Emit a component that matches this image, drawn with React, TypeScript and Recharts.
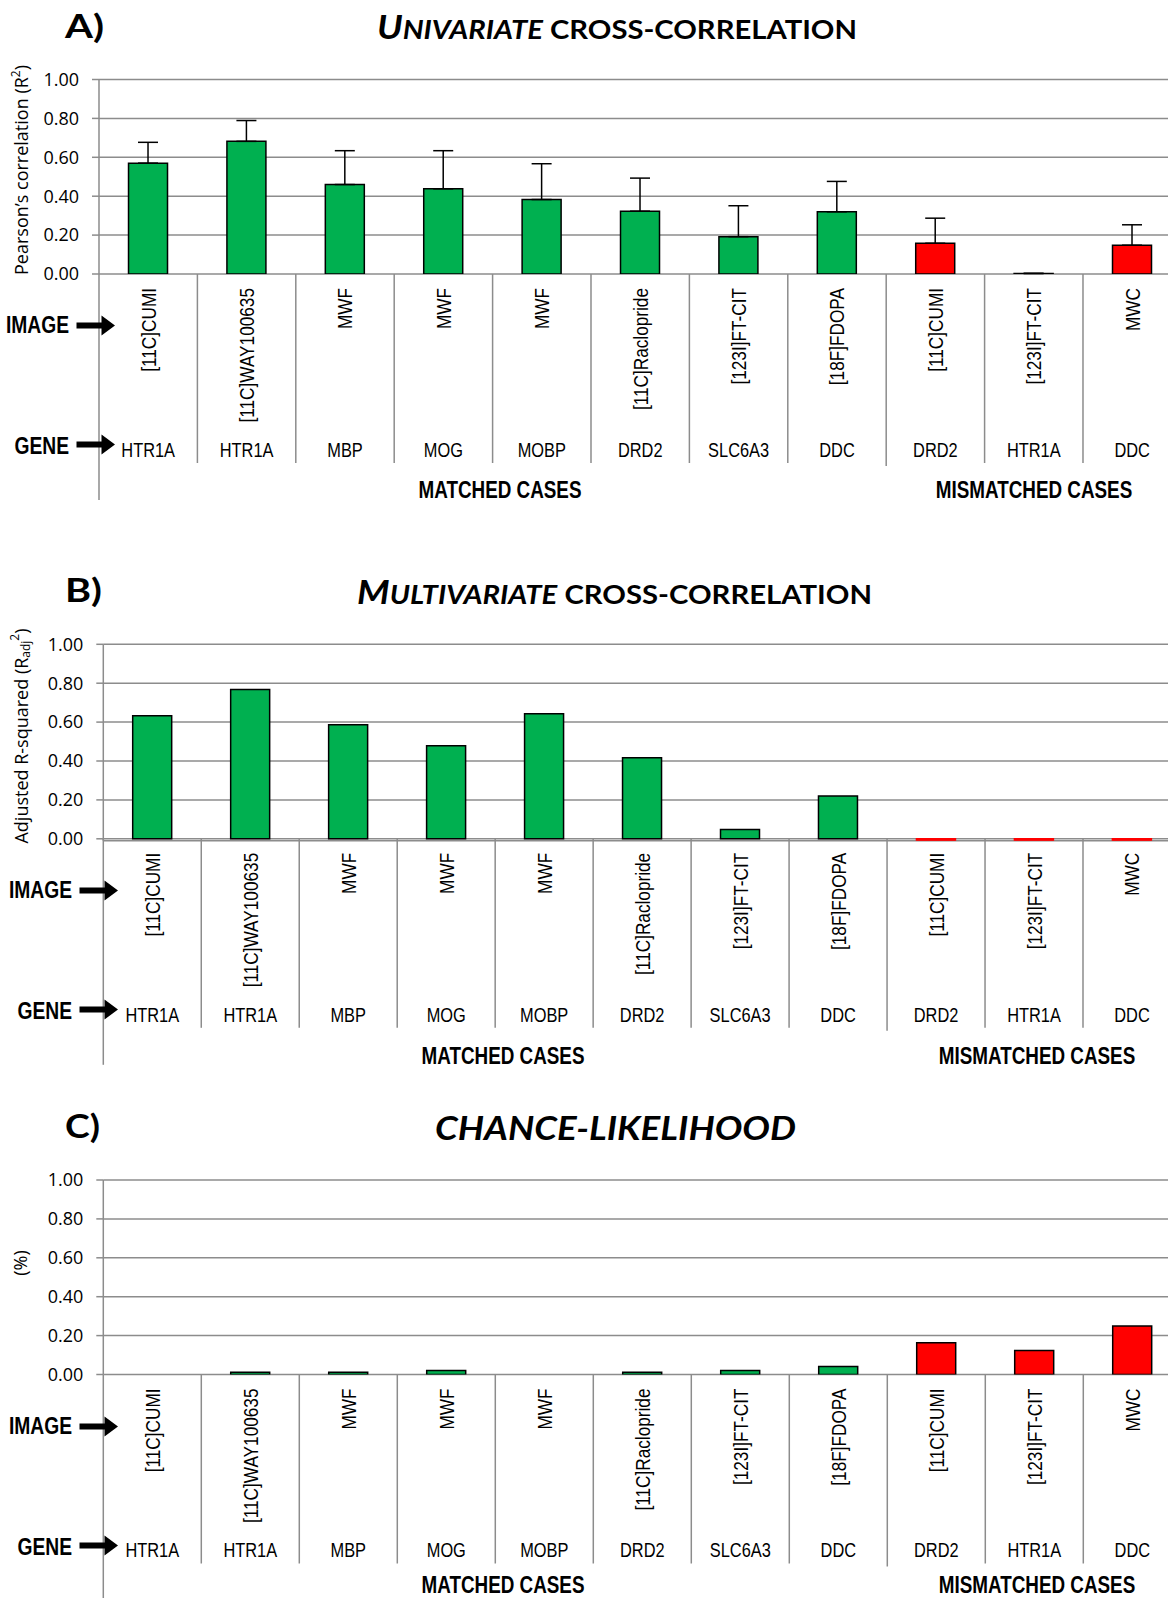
import React from "react";
import { BarChart, Bar, XAxis, YAxis, CartesianGrid, Cell, ErrorBar } from "recharts";

// ---------- data ----------
const imageLabels = [
  "[11C]CUMI", "[11C]WAY100635", "MWF", "MWF", "MWF", "[11C]Raclopride",
  "[123I]FT-CIT", "[18F]FDOPA", "[11C]CUMI", "[123I]FT-CIT", "MWC",
];
const geneLabels = ["HTR1A", "HTR1A", "MBP", "MOG", "MOBP", "DRD2", "SLC6A3", "DDC", "DRD2", "HTR1A", "DDC"];
const caseGroup = ["matched", "matched", "matched", "matched", "matched", "matched", "matched", "matched", "mismatched", "mismatched", "mismatched"];

const univariateR2 = [0.570, 0.682, 0.460, 0.438, 0.383, 0.323, 0.192, 0.320, 0.158, 0.003, 0.148];
const univariateErr = [0.107, 0.107, 0.174, 0.196, 0.184, 0.170, 0.159, 0.156, 0.129, 0, 0.105];
const multivariateR2adj = [0.633, 0.767, 0.587, 0.479, 0.643, 0.417, 0.048, 0.220, -0.01, -0.01, -0.01];
const chanceLikelihood = [0, 0.012, 0.012, 0.021, 0, 0.012, 0.021, 0.041, 0.163, 0.123, 0.250];

const yTicks = [0, 0.2, 0.4, 0.6, 0.8, 1.0];

// ---------- styles ----------
const GREEN = "#00B050";
const RED = "#FF0000";
const GRID = "#8c8c8c";
const ARIAL = "'Liberation Sans', Arial, sans-serif";
const NARROW_SCALE = 0.82;
const TITLE_FONT = "Lato, 'Open Sans', sans-serif";
const NUM_FONT = "'Open Sans', sans-serif";

const UNIT = 194.5; // px per 1.0

function NarrowText(props: {
  x: number; y: number; rotate?: boolean; anchor: "start" | "middle" | "end";
  size: number; bold?: boolean; children: React.ReactNode;
}) {
  const { x, y, rotate, anchor, size, bold, children } = props;
  const tf = `translate(${x}, ${y})${rotate ? " rotate(-90)" : ""} scale(${NARROW_SCALE}, 1)`;
  return (
    <text
      x={0}
      y={0}
      transform={tf}
      textAnchor={anchor}
      fontFamily={ARIAL}
      fontWeight={bold ? "bold" : "normal"}
      fontSize={size}
      fill="#000"
    >
      {children}
    </text>
  );
}

function CategoryTick(props: any) {
  const { x, payload, zeroY, band } = props;
  const i = Number(payload.value);
  const left = x - band / 2;
  const sepLen = i === 0 ? 226 : i === 8 ? 192 : 189;
  return (
    <g>
      <line x1={left} y1={zeroY} x2={left} y2={zeroY + sepLen} stroke={GRID} strokeWidth={1.5} />
      <NarrowText x={x + 7.5} y={zeroY + 14} rotate anchor="end" size={21}>
        {imageLabels[i]}
      </NarrowText>
      <NarrowText x={x} y={zeroY + 183} anchor="middle" size={20}>
        {geneLabels[i]}
      </NarrowText>
    </g>
  );
}

function Panel(props: { values: number[]; errors?: number[]; top: number; axisX: number; band: number; plotTop: number }) {
  const { values, errors, top, axisX, band, plotTop } = props;
  const minV = Math.min(0, ...values);
  const plotH = UNIT * (1 - minV);
  const zeroY = plotTop + UNIT;
  const plotBottom = plotTop + plotH;
  const chartH = Math.round(zeroY + 240);
  const width = axisX + band * 11;
  const rows = values.map((v, i) => ({
    id: String(i),
    value: v,
    err: errors ? [0, errors[i]] : undefined,
  }));
  return (
    <div style={{ position: "absolute", left: 0, top }}>
      <BarChart
        width={width}
        height={chartH}
        data={rows}
        margin={{ top: plotTop, right: 0, bottom: 0, left: 0 }}
        barCategoryGap="30%"
      >
        <CartesianGrid vertical={false} stroke={GRID} strokeWidth={1.5} />
        <XAxis
          dataKey="id"
          type="category"
          height={chartH - plotBottom}
          axisLine={false}
          tickLine={false}
          interval={0}
          tick={(p: any) => <CategoryTick {...p} zeroY={zeroY} band={band} />}
        />
        <YAxis
          type="number"
          domain={[minV, 1]}
          allowDataOverflow
          ticks={yTicks}
          tickFormatter={(v: number) => v.toFixed(2)}
          width={axisX}
          axisLine={{ stroke: GRID, strokeWidth: 1.5 }}
          tickLine={{ stroke: GRID, strokeWidth: 1.5 }}
          tickSize={7}
          tickMargin={13}
          tick={{ fontSize: 18, fill: "#000", fontFamily: NUM_FONT }}
        />
        <Bar dataKey="value" isAnimationActive={false} strokeWidth={1.5}>
          {rows.map((r, i) => {
            const fill = caseGroup[i] === "matched" ? GREEN : RED;
            return <Cell key={i} fill={fill} stroke={r.value < 0 ? fill : "#000"} />;
          })}
          {errors ? (
            <ErrorBar dataKey="err" direction="y" width={10} stroke="#000" strokeWidth={1.5} />
          ) : null}
        </Bar>
      </BarChart>
    </div>
  );
}

function Arrow({ x, cy }: { x: number; cy: number }) {
  const x0 = x, x1 = x + 25, x2 = x + 38.5;
  const pts = [
    [x0, cy - 3], [x1, cy - 3], [x1, cy - 10], [x2, cy], [x1, cy + 10], [x1, cy + 3], [x0, cy + 3],
  ].map((p) => p.join(",")).join(" ");
  return <polygon points={pts} fill="#000" />;
}

function RowLabels({ dy, dx, matchedY }: { dy: number; dx: number; matchedY: number }) {
  return (
    <g>
      <NarrowText x={69 + dx} y={332.5 + dy} anchor="end" size={23.5} bold>IMAGE</NarrowText>
      <Arrow x={76.5 + dx} cy={325.5 + dy} />
      <NarrowText x={69 + dx} y={454 + dy} anchor="end" size={23.5} bold>GENE</NarrowText>
      <Arrow x={76.5 + dx} cy={444.5 + dy} />
      <NarrowText x={500 + dx} y={matchedY} anchor="middle" size={23} bold>MATCHED CASES</NarrowText>
      <NarrowText x={1034 + dx} y={matchedY} anchor="middle" size={23} bold>MISMATCHED CASES</NarrowText>
    </g>
  );
}

export default function App() {
  return (
    <div
      style={{
        position: "absolute",
        left: 0,
        top: 0,
        width: 1168,
        height: 1598,
        overflow: "hidden",
        background: "#fff",
      }}
    >
      <Panel values={univariateR2} errors={univariateErr} top={0} axisX={99} band={98.4} plotTop={79.5} />
      <Panel values={multivariateR2adj} top={565} axisX={103.3} band={97.97} plotTop={79.3} />
      <Panel values={chanceLikelihood} top={1101} axisX={103.3} band={98} plotTop={79} />

      <svg
        width={1168}
        height={1598}
        style={{ position: "absolute", left: 0, top: 0, pointerEvents: "none" }}
      >
        {/* Panel A */}
        <text x={65} y={38} fontFamily={TITLE_FONT} fontWeight="bold" fontSize={32} textLength={39} lengthAdjust="spacingAndGlyphs">A)</text>
        <text x={377} y={39} fontFamily={TITLE_FONT} fontWeight="bold" fontSize={33} textLength={480} lengthAdjust="spacingAndGlyphs">
          <tspan fontStyle="italic">U</tspan>
          <tspan fontStyle="italic" fontSize={26}>NIVARIATE</tspan>
          <tspan fontSize={26}> CROSS-CORRELATION</tspan>
        </text>
        <text
          x={21}
          y={170}
          transform="rotate(-90, 21, 170)"
          textAnchor="middle"
          dominantBaseline="central"
          fontFamily={NUM_FONT}
          fontSize={18}
        >
          Pearson’s correlation (R<tspan fontSize={12} dy={-6}>2</tspan><tspan dy={6}>)</tspan>
        </text>
        <RowLabels dy={0} dx={0} matchedY={498} />

        {/* Panel B */}
        <text x={65} y={602} fontFamily={TITLE_FONT} fontWeight="bold" fontSize={32} textLength={37} lengthAdjust="spacingAndGlyphs">B)</text>
        <text x={357} y={604} fontFamily={TITLE_FONT} fontWeight="bold" fontSize={33} textLength={515} lengthAdjust="spacingAndGlyphs">
          <tspan fontStyle="italic">M</tspan>
          <tspan fontStyle="italic" fontSize={26}>ULTIVARIATE</tspan>
          <tspan fontSize={26}> CROSS-CORRELATION</tspan>
        </text>
        <text
          x={21}
          y={736}
          transform="rotate(-90, 21, 736)"
          textAnchor="middle"
          dominantBaseline="central"
          fontFamily={NUM_FONT}
          fontSize={18}
        >
          Adjusted R-squared (R<tspan fontSize={12} dy={4}>adj</tspan><tspan fontSize={12} dy={-11}>2</tspan><tspan dy={7}>)</tspan>
        </text>
        <RowLabels dy={565} dx={3} matchedY={1064} />

        {/* Panel C */}
        <text x={65} y={1138} fontFamily={TITLE_FONT} fontWeight="bold" fontSize={32} textLength={35} lengthAdjust="spacingAndGlyphs">C)</text>
        <text x={435} y={1140} fontFamily={TITLE_FONT} fontWeight="bold" fontStyle="italic" fontSize={33} textLength={361} lengthAdjust="spacingAndGlyphs">
          CHANCE-LIKELIHOOD
        </text>
        <text
          x={20}
          y={1263}
          transform="rotate(-90, 20, 1263)"
          textAnchor="middle"
          dominantBaseline="central"
          fontFamily={NUM_FONT}
          fontSize={18}
        >
          (%)
        </text>
        <RowLabels dy={1101} dx={3} matchedY={1593} />
      </svg>
    </div>
  );
}
